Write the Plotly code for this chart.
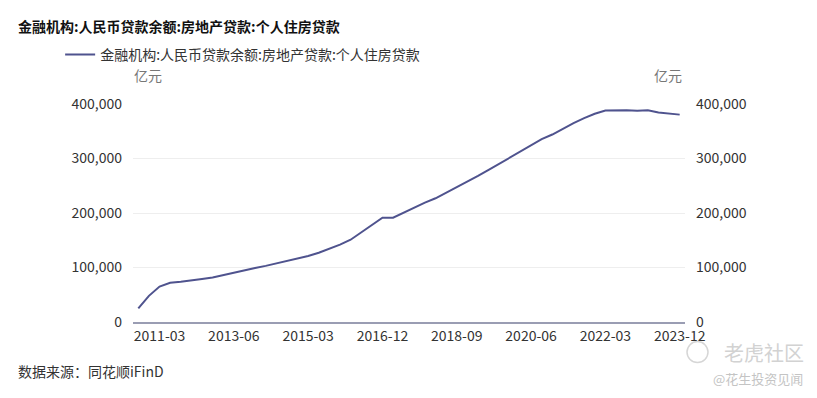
import plotly.graph_objects as go

dates = [
    "2008-12", "2009-12", "2011-03", "2011-12",
    "2012-03", "2012-06", "2012-09", "2012-12",
    "2013-03", "2013-06", "2013-09", "2013-12",
    "2014-03", "2014-06", "2014-09", "2014-12",
    "2015-03", "2015-06", "2015-09", "2015-12",
    "2016-03", "2016-06", "2016-09", "2016-12",
    "2017-03", "2017-06", "2017-09", "2017-12",
    "2018-03", "2018-06", "2018-09", "2018-12",
    "2019-03", "2019-06", "2019-09", "2019-12",
    "2020-03", "2020-06", "2020-09", "2020-12",
    "2021-03", "2021-06", "2021-09", "2021-12",
    "2022-03", "2022-06", "2022-09", "2022-12",
    "2023-03", "2023-06", "2023-09", "2023-12",
]
values = [
    25000, 48000, 65000, 72000,
    74000, 76000, 79000, 81500,
    86000, 91000, 95000, 99000,
    103000, 107500, 111000, 116000,
    121000, 127000, 134000, 142000,
    151000, 164000, 178000, 191400,
    191500, 200800, 210000, 219000,
    227000, 237000, 247000, 257000,
    268000, 279000, 290500, 301000,
    312000, 325000, 335500, 344000,
    355000, 365000, 374000, 382000,
    388000, 388500, 388500, 387500,
    388500, 384500, 382500, 380500,
]
tick_labels = ["2011-03", "2013-06", "2015-03", "2016-12", "2018-09", "2020-06", "2022-03", "2023-12"]
y_ticks = [0, 100000, 200000, 300000, 400000]
y_tick_text = ["0", "100,000", "200,000", "300,000", "400,000"]
series_name = "金融机构:人民币贷款余额:房地产贷款:个人住房贷款"
title_text = "金融机构:人民币贷款余额:房地产贷款:个人住房贷款"
unit = "亿元"
source = "数据来源：同花顺iFinD"

FONT = "Microsoft YaHei, Noto Sans CJK SC, sans-serif"
LINE = "#4f538e"

fig = go.Figure()
fig.add_trace(go.Scatter(x=dates, y=values, mode="lines", name=series_name,
                         line=dict(color=LINE, width=2), yaxis="y"))
fig.add_trace(go.Scatter(x=dates, y=values, mode="lines", showlegend=False,
                         line=dict(color=LINE, width=2), opacity=0, hoverinfo="skip", yaxis="y2"))

fig.update_layout(
    width=817, height=398,
    margin=dict(l=133, r=132, t=104, b=76),
    paper_bgcolor="white", plot_bgcolor="white",
    font=dict(family=FONT, size=14, color="#333"),
    showlegend=True,
    legend=dict(orientation="h", x=-0.132, xanchor="left", y=1.225, yanchor="middle",
                font=dict(size=14, color="#333"), bgcolor="rgba(0,0,0,0)",
                itemwidth=30),
    xaxis=dict(type="category", range=[-0.5, len(dates) - 0.5],
               tickmode="array", tickvals=tick_labels, ticktext=tick_labels,
               showgrid=False, showline=True, linecolor="#9a9db3", linewidth=2,
               ticks="", tickfont=dict(size=14, color="#333"), zeroline=False),
    yaxis=dict(range=[0, 400000], tickvals=y_ticks, ticktext=y_tick_text,
               showgrid=True, gridcolor="#eeeeee", gridwidth=1, zeroline=False,
               showline=False, ticks="", tickfont=dict(size=14, color="#333"),
               ticklabelstandoff=10),
    yaxis2=dict(range=[0, 400000], tickvals=y_ticks, ticktext=y_tick_text,
                overlaying="y", side="right", showgrid=False, zeroline=False,
                showline=False, ticks="", tickfont=dict(size=14, color="#333"),
                ticklabelstandoff=10),
)

fig.add_annotation(text="<b>" + title_text + "</b>", xref="paper", yref="paper",
                   x=-0.212, y=1.358, xanchor="left", yanchor="middle", showarrow=False,
                   font=dict(size=14, color="#111"))
fig.add_annotation(text=unit, xref="paper", yref="paper", x=-0.002, y=1.133,
                   xanchor="left", yanchor="middle", showarrow=False,
                   font=dict(size=14, color="#777"))
fig.add_annotation(text=unit, xref="paper", yref="paper", x=0.998, y=1.133,
                   xanchor="right", yanchor="middle", showarrow=False,
                   font=dict(size=14, color="#777"))
fig.add_annotation(text=source, xref="paper", yref="paper", x=-0.212, y=-0.225,
                   xanchor="left", yanchor="middle", showarrow=False,
                   font=dict(size=14, color="#333"))
fig.add_annotation(text="老虎社区", xref="paper", yref="paper", x=(806 - 133) / 552, y=-0.138,
                   xanchor="right", yanchor="middle", showarrow=False,
                   font=dict(size=20, color="#d2d2d2"))
fig.add_annotation(text="@花生投资见闻", xref="paper", yref="paper", x=(805 - 133) / 552, y=-0.257,
                   xanchor="right", yanchor="middle", showarrow=False,
                   font=dict(size=13, color="#c4c4c4"))
fig.add_shape(type="circle", xref="paper", yref="paper",
              x0=(687 - 133) / 552, x1=(708 - 133) / 552, y0=-0.186, y1=-0.09,
              line=dict(color="#d6d6d6", width=1.5))

fig.write_html("out.html", config={"displayModeBar": False},
               post_script="document.body.style.margin='0px';")
